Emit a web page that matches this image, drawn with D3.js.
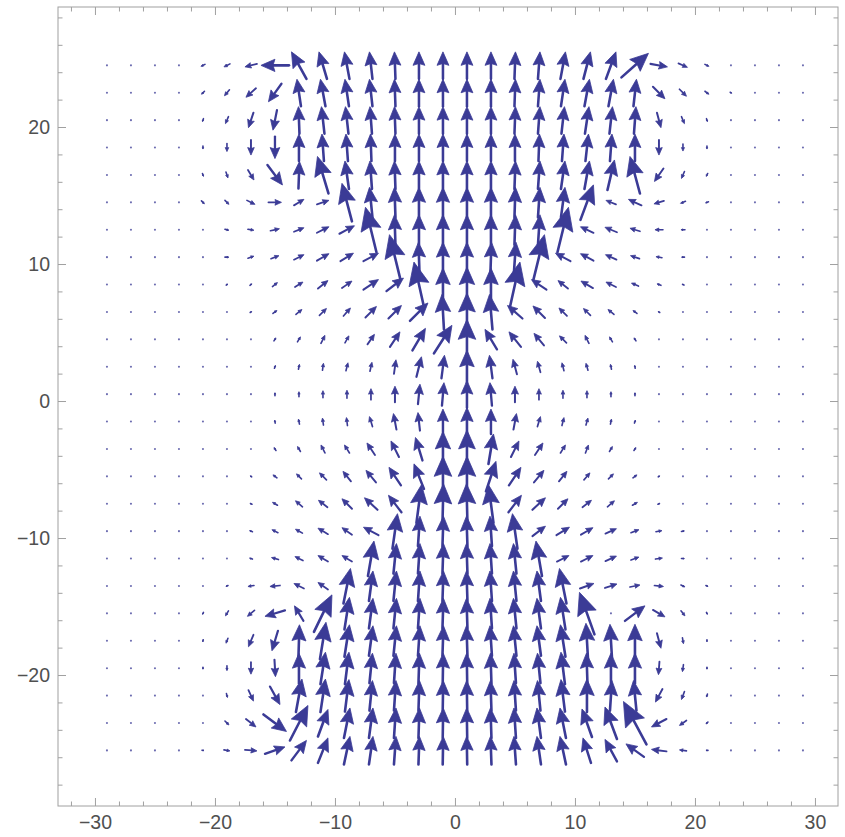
<!DOCTYPE html>
<html>
<head>
<meta charset="utf-8">
<script src="https://cdn.jsdelivr.net/npm/d3@7"></script>
<style>
  body { margin: 0; background: #fff; }
  svg { display: block; }
</style>
</head>
<body>
<svg id="chart" width="845" height="837"></svg>
<script>
// grid sample points
const xValues = [-29,-27,-25,-23,-21,-19,-17,-15,-13,-11,-9,-7,-5,-3,-1,1,3,5,7,9,11,13,15,17,19,21,23,25,27,29];
const yValues = [24.5,22.5,20.5,18.5,16.5,14.5,12.5,10.5,8.5,6.5,4.5,2.5,0.5,-1.5,-3.5,-5.5,-7.5,-9.5,-11.5,-13.5,-15.5,-17.5,-19.5,-21.5,-23.5,-25.5];

// field components, one row per yValue (top to bottom)
const uRows = [
  [-0.3,-0.5,-0.8,-1.5,-4,-6,-12,-28,-15,-8,-5,-3,-1,0,0,0,0,1,2,5,7,10,27,17,9,4,1.5,0.8,0.5,0.3],
  [-0.3,-0.3,-0.5,-1,-3,-5,-10,-13,-4,-5,-4,-3,-1,0,0,0,0,1,2,4,5,5,3,12,7,4,1.5,0.6,0.3,0.2],
  [0,0,-0.2,-0.5,-1,-3,-5,-4,-1,-3,-3,-2,-1,0,0,0,0,1,2,3,4,3,2,4,3,1,0.5,0.2,0,0],
  [0,0,0,0,0,0,0,0,0,-2,-2,-1,0,0,0,0,0,0,1,2,3,2,0,0,0,0,0,0,0,0],
  [0.2,0.3,0.3,0.5,1,2,6,15,1,-11,-4,-2,-1,0,0,0,0,1,2,4,5,7,-10,-9,-3,-1.5,-0.5,-0.3,-0.2,-0.1],
  [0.2,0.3,0.5,1,3,4,8,13,10,12,-10,-3,-1,0,0,0,0,1,2,4,13,-10,-13,-10,-5,-3,-1,-0.5,-0.3,-0.2],
  [0.2,0.3,0.5,0.8,1,4,6,9,10,12,15,-11,-1,0,0,0,0,1,2,11,-13,-12,-10,-8,-4,-1.5,-0.8,-0.5,-0.3,-0.2],
  [0.2,0.3,0.5,0.8,1,4,6,8,10,12,13,15,-11,-1,0,0,1,2,11,-15,-13,-11,-9,-6,-3,-1,-0.5,-0.3,-0.2,-0.1],
  [0.2,0.3,0.4,0.6,0.7,1.5,2,5,8,10,10,15,17,-10,0,0,0,10,-15,-10,-12,-10,-7,-4,-2,-1,-0.5,-0.3,-0.2,-0.1],
  [0.2,0.3,0.4,0.5,0.7,1.2,1.5,4,6,7,7,11,13,18,-2,0,-3,-15,-12,-8,-7,-6,-4,-1.5,-1,-0.5,-0.4,-0.3,-0.2,-0.1],
  [0.1,0.2,0.3,0.4,0.5,0.8,1,2,3,4,4,7,10,13,18,0,-12,-12,-10,-7,-4,-3,-2,-1,-0.8,-0.5,-0.4,-0.3,-0.2,-0.1],
  [0.1,0.1,0.2,0.2,0.3,0.5,0.5,1,1,1,2,2,2,5,3,0,-3,-4,-3,-2,-2,-1,-0.5,-0.3,-0.3,-0.2,-0.2,-0.1,-0.1,0],
  [0,0,0,0,0,0,0,0,0,0,0,0,0,2,2,0,-2,0,0,0,0,0,0,0,0,0,0,0,0,0],
  [-0.1,-0.1,-0.2,-0.2,-0.3,-0.5,0,-0.5,-1,-1,-1,-3,-3,-2,0,0,0,3,3,2,2,1,1,0.3,0.3,0.2,0.2,0.1,0.1,0],
  [-0.1,-0.2,-0.3,-0.4,-0.5,-0.8,-1,-2,-3,-4,-5,-8,-8,-7,0,0,5,8,8,5,3,3,2,1,0.8,0.5,0.4,0.3,0.2,0.1],
  [-0.1,-0.2,-0.3,-0.5,-0.7,-1,-1.5,-4,-5,-7,-8,-10,-12,-10,0,0,10,12,10,8,6,5,4,1.5,1,0.7,0.5,0.3,0.2,0.1],
  [-0.1,-0.2,-0.3,-0.5,-0.7,-1.2,-2,-5,-7,-9,-10,-13,-13,5,1,-1,-5,13,13,10,9,7,5,2,1.2,0.7,0.5,0.3,0.2,0.1],
  [-0.1,-0.1,-0.2,-0.3,-0.5,-1,-3,-6,-7,-10,-10,-15,5,2,1,-1,-2,-5,13,13,12,11,8,6,3,1,0.5,0.3,0.2,0.1],
  [-0.1,-0.1,-0.2,-0.3,-0.5,-1,-3,-7,-8,-10,-10,6,3,2,1,-1,-2,-3,-6,12,12,11,8,7,3,1,0.5,0.3,0.2,0.1],
  [0,-0.1,-0.1,-0.2,-0.5,-2,-6,-10,-10,-10,7,4,3,2,1,-1,-2,-3,-4,-7,14,12,10,9,4,2,0.5,0.3,0.1,0],
  [0,0,-0.1,-0.3,-1,-3,-7,-20,-9,18,5,4,3,2,1,-1,-2,-3,-4,-5,-15,0.5,20,12,4,1,0.3,0.1,0,0],
  [0,0,0,-0.2,-0.5,-2,-5,-6,1,6,5,4,3,2,1,-1,-2,-3,-4,-5,-2,-2,0,4,1,0,0,0,0,0],
  [0,0,0,0,0,0,0,1,0,5,4,3,2,1,0.5,-0.5,-1,-2,-3,-4,-1,0,0,-1,-1,0,0,0,0,0],
  [0,0,0.1,0.2,0.3,1,5,10,6,5,4,3,2,1,0.5,-0.5,-1,-2,-3,-4,0,2,-3,-7,-3,-1,-0.3,-0.1,0,0],
  [0,0.1,0.2,0.3,1,4,10,23,18,10,6,4,2,1,0.5,-0.5,-1,-2,-4,-6,-10,-12,-23,-15,-7,-2,-0.5,-0.2,-0.1,0],
  [0.1,0.1,0.2,0.7,2,6,12,20,15,10,6,4,2,1,0.5,-0.5,-1,-2,-4,-6,-8,-12,-18,-15,-7,-2,-0.7,-0.2,-0.1,0]
];

const vRows = [
  [-0.2,-0.3,-0.4,-0.8,-2,-3,-3,0,27,27,27,27,27,27,27,27,27,27,27,27,27,27,24,-3,-4,-2,-0.8,-0.4,-0.3,-0.2],
  [-0.3,-0.3,-0.5,-1,-3,-6,-9,-18,27,27,27,27,27,27,27,27,27,27,27,27,27,27,27,-12,-7,-3,-1,-0.4,-0.2,-0.1],
  [-0.3,-0.3,-0.5,-1,-3,-7,-15,-20,27,27,27,27,27,27,27,27,27,27,27,27,27,27,27,-15,-7,-3,-1,-0.4,-0.3,-0.2],
  [-0.2,-0.3,-0.5,-1,-3,-8,-15,-22,27,27,27,27,27,27,27,27,27,27,27,27,27,27,27,-15,-7,-3,-1,-0.5,-0.3,-0.2],
  [-0.2,-0.3,-0.5,-1,-3,-6,-10,-20,27,37,28,28,28,28,28,28,28,28,28,28,28,30,37,-13,-7,-3,-1,-0.5,-0.3,-0.2],
  [-0.1,-0.2,-0.4,-0.7,-3,-4,-4,0,6,4,38,30,30,30,30,30,30,30,30,30,35,4,6,-3,-2,-1,-0.5,-0.3,-0.2,-0.1],
  [0,0,0,0,-0.5,-1,-1,2,4,6,8,45,30,30,30,30,30,30,30,45,6,5,3,0,0,0,0,0,0,0],
  [0,0,0,0,0,0,2,3,5,7,8,8,45,30,30,30,30,30,45,8,7,5,3,1,0,0,0,0,0,0],
  [0.1,0.2,0.3,0.4,0.5,1,1.5,4,5,8,7,10,13,45,33,35,33,45,10,8,7,5,3,1.5,1,0.5,0.3,0.2,0.1,0.1],
  [0.2,0.3,0.4,0.5,0.7,1,1,3,5,7,8,11,13,18,35,38,35,13,12,8,7,5,3,1,0.7,0.5,0.4,0.3,0.2,0.1],
  [0.2,0.3,0.4,0.6,0.8,1,1,3,5,8,7,10,15,22,28,40,20,15,12,7,8,5,3,1,1,0.8,0.5,0.4,0.3,0.2],
  [0.2,0.3,0.4,0.6,0.8,1,1,3,5,7,8,9,14,20,23,33,23,15,11,8,7,5,3,1,1,0.8,0.5,0.4,0.3,0.2],
  [0.2,0.3,0.4,0.6,0.8,1,1,3,5,7,8,11,16,20,23,27,23,16,11,8,7,5,3,1,1,0.8,0.5,0.4,0.3,0.2],
  [0.2,0.3,0.4,0.6,0.8,1,1,3,5,7,8,10,16,18,25,28,25,16,10,8,7,5,3,1,1,0.8,0.5,0.4,0.3,0.2],
  [0.2,0.3,0.4,0.6,0.8,1,1,3,5,8,8,12,16,23,35,38,30,16,12,8,8,5,3,1,1,0.8,0.5,0.4,0.3,0.2],
  [0.1,0.2,0.3,0.5,0.7,1,1,3,5,7,10,12,18,25,40,40,30,18,12,10,7,5,3,1,1,0.7,0.5,0.3,0.2,0.1],
  [0.1,0.2,0.3,0.4,0.5,0.8,1,3,6,7,10,12,17,38,40,40,38,17,12,10,7,6,3,1,0.8,0.5,0.4,0.3,0.2,0.1],
  [0,0.1,0.1,0.2,0.2,0.5,1,3,4,6,7,8,35,30,30,30,30,35,10,8,7,5,3,1,0.5,0,0,0,0,0],
  [0,0,0.1,0.1,0.2,0.5,1,2,4,6,6,35,30,30,30,30,30,30,35,6,6,5,3,1,0,0,0,0,0,0],
  [0,0,-0.1,-0.2,-0.3,-1,-1,-1,5,7,35,30,30,30,30,30,30,30,30,35,5,4,2,-1,-2,-1,-0.3,-0.2,-0.1,0],
  [0,0,-0.1,-0.5,-2,-5,-6,-6,15,37,32,30,30,30,30,30,30,30,30,32,42,0.5,15,-7,-5,-2,-0.5,-0.2,-0.1,0],
  [0,0,-0.1,-0.5,-2,-5,-12,-20,32,37,32,30,30,30,30,30,30,30,30,32,35,33,33,-15,-6,-2,-0.5,-0.2,-0.1,0],
  [0,0,-0.1,-0.5,-2,-5,-12,-17,30,32,32,30,30,30,30,30,30,30,30,32,30,30,30,-13,-7,-2,-0.5,-0.2,-0.1,0],
  [0,0,-0.1,-0.4,-1.5,-4,-11,-18,33,33,32,30,30,30,30,30,30,30,30,32,33,30,30,-13,-8,-3,-0.5,-0.2,-0.1,0],
  [0,0,-0.1,-0.3,-1,-4,-8,-17,35,27,30,30,30,30,30,30,30,30,30,30,28,32,43,-8,-5,-2,-0.5,-0.2,-0.1,0],
  [0,0,0,0,-0.3,-1,-1,7,20,25,28,28,28,28,28,28,28,28,28,28,25,22,13,2,1,0,0,0,0,0]
];

const xTickValues = [-30,-20,-10,0,10,20,30];
const yTickValues = [-20,-10,0,10,20];
const xMinorTicks = [-32,-28,-26,-24,-22,-18,-16,-14,-12,-8,-6,-4,-2,2,4,6,8,12,14,16,18,22,24,26,28];
const yMinorTicks = [-28,-26,-24,-22,-18,-16,-14,-12,-8,-6,-4,-2,2,4,6,8,12,14,16,18,22,24,26,28];

const arrowColor = "#3b3b96";
const frameColor = "#a0a0a0";
const labelColor = "#505050";

const svg = d3.select("#chart");

const x = d3.scaleLinear().domain([-33.08, 31.92]).range([58, 838]);
const y = d3.scaleLinear().domain([-29.56, 28.76]).range([806, 7]);

// field units -> data units (the field was read in screen-sized units)
const uScale = d3.scaleLinear().domain([0, 12]).range([0, 1]);
const vScale = d3.scaleLinear().domain([0, 13.7]).range([0, 1]);

const arrows = [];
yValues.forEach((yv, r) => {
  xValues.forEach((xv, c) => {
    arrows.push({ x: xv, y: yv, u: uRows[r][c], v: vRows[r][c] });
  });
});

// arrows are centred on their sample point
arrows.forEach(d => {
  const du = uScale(d.u) / 2, dv = vScale(d.v) / 2;
  d.x0 = x(d.x - du); d.y0 = y(d.y - dv);
  d.x1 = x(d.x + du); d.y1 = y(d.y + dv);
  d.len = Math.hypot(d.x1 - d.x0, d.y1 - d.y0);
});

const field = svg.append("g").attr("class", "field");

const small = arrows.filter(d => d.len < 1.8);
const big = arrows.filter(d => d.len >= 1.8);

field.selectAll("circle.dot")
  .data(small)
  .join("circle")
  .attr("class", "dot")
  .attr("cx", d => x(d.x))
  .attr("cy", d => y(d.y))
  .attr("r", 1.05)
  .attr("fill", arrowColor)
  .attr("opacity", 0.75);

function headPoints(d) {
  const ux = (d.x1 - d.x0) / d.len, uy = (d.y1 - d.y0) / d.len;
  const nx = -uy, ny = ux;
  const h = 0.5 * d.len, w = 0.22 * d.len;
  const bx = d.x1 - ux * h, by = d.y1 - uy * h;
  const mx = d.x1 - ux * h * 0.86, my = d.y1 - uy * h * 0.86;
  return [[d.x1, d.y1], [bx + nx * w, by + ny * w], [mx, my], [bx - nx * w, by - ny * w]];
}

const arrowG = field.selectAll("g.arrow")
  .data(big)
  .join("g")
  .attr("class", "arrow");

arrowG.append("line")
  .attr("x1", d => d.x0)
  .attr("y1", d => d.y0)
  .attr("x2", d => d.x1 - (d.x1 - d.x0) * 0.4)
  .attr("y2", d => d.y1 - (d.y1 - d.y0) * 0.4)
  .attr("stroke", arrowColor)
  .attr("stroke-width", d => Math.max(1.6, Math.min(2.6, 1.2 + d.len * 0.05)))
  .attr("stroke-linecap", "round");

arrowG.append("polygon")
  .attr("points", d => headPoints(d).map(p => p.join(",")).join(" "))
  .attr("fill", arrowColor)
  .attr("stroke", arrowColor)
  .attr("stroke-width", 0.8)
  .attr("stroke-linejoin", "round");

// frame
const fmt = d3.format("");
const frame = svg.append("g").attr("class", "frame");

frame.append("rect")
  .attr("x", x.range()[0])
  .attr("y", y.range()[1])
  .attr("width", x.range()[1] - x.range()[0])
  .attr("height", y.range()[0] - y.range()[1])
  .attr("fill", "none")
  .attr("stroke", frameColor)
  .attr("stroke-width", 1);

const bottomAxis = d3.axisBottom(x).tickValues(xTickValues).tickSize(-8).tickPadding(9).tickFormat(fmt);
const bottomMinor = d3.axisBottom(x).tickValues(xMinorTicks).tickSize(-4.5).tickFormat("");
const topAxis = d3.axisTop(x).tickValues(xTickValues).tickSize(-8).tickFormat("");
const topMinor = d3.axisTop(x).tickValues(xMinorTicks).tickSize(-4.5).tickFormat("");
const leftAxis = d3.axisLeft(y).tickValues(yTickValues).tickSize(-8).tickPadding(8).tickFormat(fmt);
const leftMinor = d3.axisLeft(y).tickValues(yMinorTicks).tickSize(-4.5).tickFormat("");
const rightAxis = d3.axisRight(y).tickValues(yTickValues).tickSize(-8).tickFormat("");
const rightMinor = d3.axisRight(y).tickValues(yMinorTicks).tickSize(-4.5).tickFormat("");

const y0 = y.range()[0], y1 = y.range()[1], x0 = x.range()[0], x1 = x.range()[1];

[[bottomAxis, `translate(0,${y0})`], [bottomMinor, `translate(0,${y0})`],
 [topAxis, `translate(0,${y1})`], [topMinor, `translate(0,${y1})`],
 [leftAxis, `translate(${x0},0)`], [leftMinor, `translate(${x0},0)`],
 [rightAxis, `translate(${x1},0)`], [rightMinor, `translate(${x1},0)`]].forEach(([ax, tr]) => {
  const g = frame.append("g").attr("transform", tr).call(ax);
  g.select(".domain").remove();
  g.selectAll(".tick line").attr("stroke", frameColor);
  g.selectAll(".tick text")
    .attr("fill", labelColor)
    .style("font-family", "'Liberation Sans', Arial, sans-serif")
    .style("font-size", "19.5px");
});
</script>
</body>
</html>
